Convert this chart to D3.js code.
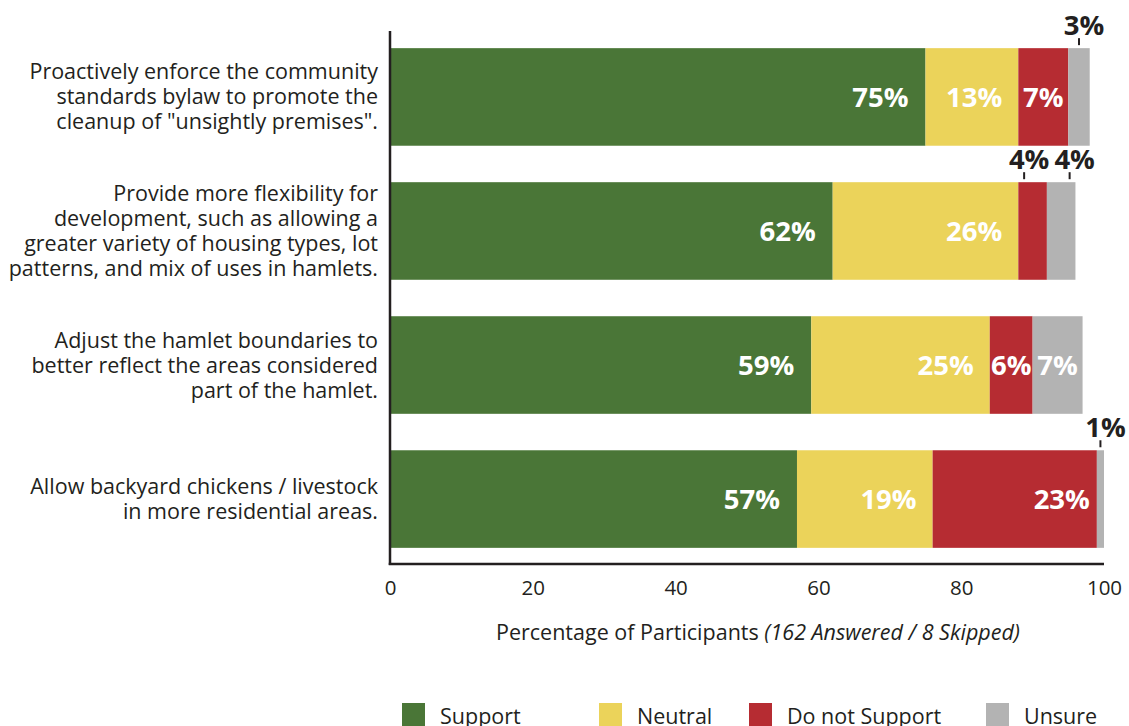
<!DOCTYPE html>
<html>
<head>
<meta charset="utf-8">
<script src="https://cdn.jsdelivr.net/npm/d3@7"></script>
<style>
  html, body { margin: 0; padding: 0; background: #fff; }
  svg { display: block; font-family: "Open Sans", "Noto Sans", sans-serif; }
</style>
</head>
<body>
<svg id="chart" width="1129" height="726"></svg>
<script>
// Survey statements (each entry is a list of wrapped lines)
const statements = [
  ["Proactively enforce the community", "standards bylaw to promote the", "cleanup of \"unsightly premises\"."],
  ["Provide more flexibility for", "development, such as allowing a", "greater variety of housing types, lot", "patterns, and mix of uses in hamlets."],
  ["Adjust the hamlet boundaries to", "better reflect the areas considered", "part of the hamlet."],
  ["Allow backyard chickens / livestock", "in more residential areas."]
];
const responses = ["Support", "Neutral", "Do not Support", "Unsure"];
const support      = [75, 62, 59, 57];
const neutral      = [13, 26, 25, 19];
const doNotSupport = [7, 4, 6, 23];
const unsure       = [3, 4, 7, 1];
const xTicks = [0, 20, 40, 60, 80, 100];
const colors = ["#4a7637", "#ebd35a", "#b62c32", "#b3b3b3"];

const series = [support, neutral, doNotSupport, unsure];
const ink = "#231f20";
const valueFont = "27.5px";

const svg = d3.select("#chart");
const x = d3.scaleLinear().domain([0, 100]).range([390, 1104]);
const y = d3.scaleBand()
  .domain(d3.range(statements.length))
  .range([31, 565])
  .paddingInner(0.272)
  .paddingOuter(0.128);

// Stack the segments per statement
const rows = statements.map((s, i) => {
  let acc = 0;
  return series.map((vals, k) => {
    const v = vals[i];
    const seg = { row: i, k, v, x0: acc, x1: acc + v };
    acc += v;
    return seg;
  });
});

// Bars
const rowG = svg.append("g").selectAll("g").data(rows).join("g");
rowG.selectAll("rect").data(d => d).join("rect")
  .attr("x", d => x(d.x0))
  .attr("y", d => y(d.row))
  .attr("width", d => x(d.x1) - x(d.x0))
  .attr("height", y.bandwidth())
  .attr("fill", d => colors[d.k]);

// Axis lines (left and bottom)
svg.append("line")
  .attr("x1", x(0)).attr("x2", x(0))
  .attr("y1", 31).attr("y2", 565)
  .attr("stroke", ink).attr("stroke-width", 2.5);
svg.append("line")
  .attr("x1", x(0) - 1.25).attr("x2", x(100))
  .attr("y1", 564).attr("y2", 564)
  .attr("stroke", ink).attr("stroke-width", 2.5);

// Tick labels
const xAxis = d3.axisBottom(x).tickValues(xTicks).tickSize(0).tickPadding(0);
const axisG = svg.append("g").attr("transform", "translate(0,580)").call(xAxis);
axisG.select(".domain").remove();
axisG.selectAll("text")
  .attr("dy", "0.71em")
  .style("font-family", "'Open Sans', sans-serif")
  .style("font-size", "20.5px")
  .attr("fill", ink);

// Axis title
const title = svg.append("text")
  .attr("x", 758).attr("y", 640)
  .attr("text-anchor", "middle")
  .attr("fill", ink)
  .style("font-size", "21.5px");
title.append("tspan").text("Percentage of Participants ");
title.append("tspan").style("font-style", "italic").text("(162 Answered / 8 Skipped)");

// Statement labels
statements.forEach((lines, i) => {
  const lh = 25;
  const cy = y(i) + y.bandwidth() / 2;
  const t = svg.append("text")
    .attr("text-anchor", "end")
    .attr("fill", ink)
    .style("font-size", "21.5px");
  lines.forEach((ln, j) => {
    t.append("tspan")
      .attr("x", 378)
      .attr("y", cy + (j - (lines.length - 1) / 2) * lh)
      .attr("dy", "0.35em")
      .text(ln);
  });
});

// Value labels: inside when they fit, otherwise above the bar with a tick
const insets = [17, 16, 7, 7];
const measure = svg.append("text")
  .style("font-size", valueFont).style("font-weight", "700").attr("opacity", 0);

rows.forEach(segs => {
  const outside = [];
  segs.forEach(s => {
    const label = s.v + "%";
    measure.text(label);
    const tw = measure.node().getComputedTextLength();
    const w = x(s.x1) - x(s.x0);
    if (tw + 2 <= w) {
      const inset = Math.min(insets[s.k], (w - tw) / 2);
      svg.append("text")
        .attr("x", x(s.x1) - inset)
        .attr("y", y(s.row) + y.bandwidth() / 2)
        .attr("dy", "0.36em")
        .attr("text-anchor", "end")
        .attr("fill", "#fff")
        .style("font-size", valueFont).style("font-weight", "700")
        .text(label);
    } else {
      outside.push({ s, label, tw, cx: (x(s.x0) + x(s.x1)) / 2 + 5 });
    }
  });
  // spread overlapping outside labels apart
  for (let iter = 0; iter < 10; iter++) {
    for (let i = 1; i < outside.length; i++) {
      const a = outside[i - 1], b = outside[i];
      const need = (a.tw + b.tw) / 2 + 5;
      const gap = b.cx - a.cx;
      if (gap < need) {
        const push = (need - gap) / 2;
        a.cx -= push; b.cx += push;
      }
    }
  }
  outside.forEach(o => {
    const top = y(o.s.row);
    svg.append("text")
      .attr("x", o.cx).attr("y", top - 13)
      .attr("text-anchor", "middle")
      .attr("fill", ink)
      .style("font-size", valueFont).style("font-weight", "700")
      .text(o.label);
    svg.append("line")
      .attr("x1", o.cx - 5).attr("x2", o.cx - 5)
      .attr("y1", top - 10).attr("y2", top - 3)
      .attr("stroke", ink).attr("stroke-width", 2);
  });
});
measure.remove();

// Legend
const legendX = [402, 599, 749, 986];
const legend = svg.append("g").selectAll("g").data(responses).join("g")
  .attr("transform", (d, i) => `translate(${legendX[i]},703)`);
legend.append("rect").attr("width", 23).attr("height", 23).attr("fill", (d, i) => colors[i]);
legend.append("text")
  .attr("x", 38).attr("y", 21)
  .attr("fill", ink)
  .style("font-size", "21.5px")
  .text(d => d);
</script>
</body>
</html>
